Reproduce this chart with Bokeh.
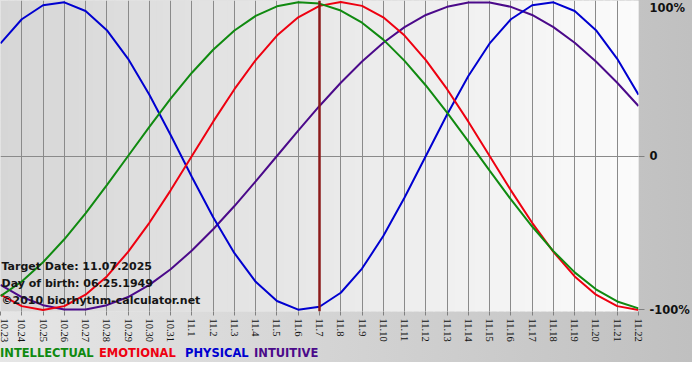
import math
from bokeh.plotting import figure
from bokeh.layouts import column
from bokeh.models import Range1d, FixedTicker, Span, Label, BoxAnnotation, LinearAxis, Div
from bokeh.embed import file_html
from bokeh.resources import INLINE

# ---- data ----
day_labels = ["10.23", "10.24", "10.25", "10.26", "10.27", "10.28", "10.29", "10.30", "10.31",
              "11.1", "11.2", "11.3", "11.4", "11.5", "11.6", "11.7", "11.8", "11.9", "11.10",
              "11.11", "11.12", "11.13", "11.14", "11.15", "11.16", "11.17", "11.18", "11.19",
              "11.20", "11.21", "11.22"]
target_label = "11.7"

physical = [73.1, 88.8, 97.9, 99.8, 94.2, 81.7, 63.1, 39.8, 13.6, -13.6, -39.8, -63.1, -81.7,
            -94.2, -99.8, -97.9, -88.8, -73.1, -52.0, -27.0, 0.0, 27.0, 52.0, 73.1, 88.8, 97.9,
            99.8, 94.2, 81.7, 63.1, 39.8]
emotional = [-90.1, -97.5, -100.0, -97.5, -90.1, -78.2, -62.3, -43.4, -22.3, 0.0, 22.3, 43.4,
             62.3, 78.2, 90.1, 97.5, 100.0, 97.5, 90.1, 78.2, 62.3, 43.4, 22.3, 0.0, -22.3,
             -43.4, -62.3, -78.2, -90.1, -97.5, -100.0]
intellectual = [-91.0, -81.5, -69.0, -54.1, -37.2, -18.9, 0.0, 18.9, 37.2, 54.1, 69.0, 81.5,
                91.0, 97.2, 99.9, 99.0, 94.5, 86.6, 75.6, 61.8, 45.8, 28.2, 9.5, -9.5, -28.2,
                -45.8, -61.8, -75.6, -86.6, -94.5, -99.0]
intuitive = [-83.7, -91.6, -96.9, -99.7, -99.7, -96.9, -91.6, -83.7, -73.6, -61.4, -47.6, -32.5,
             -16.5, 0.0, 16.5, 32.5, 47.6, 61.4, 73.6, 83.7, 91.6, 96.9, 99.7, 99.7, 96.9, 91.6,
             83.7, 73.6, 61.4, 47.6, 32.5]

y_ticks = [-100, 0, 100]
y_tick_labels = ["-100%", "0", "100%"]
series_names = ["INTELLECTUAL", "EMOTIONAL", "PHYSICAL", "INTUITIVE"]
info_lines = ["Target Date: 11.07.2025", "Day of birth: 06.25.1949", "\u00a92010 biorhythm-calculator.net"]

# ---- style ----
colors = {"INTELLECTUAL": "#108a10", "EMOTIONAL": "#ee0010", "PHYSICAL": "#0000d0", "INTUITIVE": "#4b0a8a"}
GRAD = "linear-gradient(to right, #e6e6e6, #c0c0c0)"
W, H = 692, 345
BR, BB = 49, 32
FW, FH = W - BR, H - BB
Y0, Y1 = -101, 101

days = list(range(len(day_labels)))

p = figure(width=W, height=H, output_backend="svg", toolbar_location=None,
           x_range=Range1d(days[0], days[-1]), y_range=Range1d(Y0, Y1),
           y_axis_location=None,
           min_border_left=0, min_border_top=0, min_border_right=BR, min_border_bottom=BB)
p.outline_line_color = None
p.background_fill_color = "#e8e8e8"
p.border_fill_color = None
p.styles = {"background": GRAD}


def lerp_gray(a, b, t):
    v = int(round(a + (b - a) * t))
    return "#%02x%02x%02x" % (v, v, v)


boxes = []
NF = 90
span = days[-1] - days[0]
for i in range(NF):
    x0 = days[0] + span * i / NF
    x1 = days[0] + span * (i + 1) / NF
    boxes.append(BoxAnnotation(left=x0, right=x1 + span / NF * 0.3,
                               fill_color=lerp_gray(0xd6, 0xfb, (i + 0.5) / NF), fill_alpha=1,
                               line_alpha=0, level="underlay"))
for b in boxes:
    p.add_layout(b)
others = [r for r in p.center if r not in boxes]
p.center = boxes + others

# grids
p.xgrid.ticker = FixedTicker(ticks=days)
p.xgrid.grid_line_color = "#8a8a8a"
p.xgrid.grid_line_width = 1
p.ygrid.ticker = FixedTicker(ticks=[0])
p.ygrid.grid_line_color = "#8a8a8a"

# curves
for name, vals in [("INTUITIVE", intuitive), ("PHYSICAL", physical),
                   ("EMOTIONAL", emotional), ("INTELLECTUAL", intellectual)]:
    p.line(days, vals, line_color=colors[name], line_width=2)

p.add_layout(Span(location=day_labels.index(target_label), dimension="height",
                  line_color="#8b1a1a", line_width=2.5))

# bottom axis
xa = p.xaxis[0]
xa.ticker = FixedTicker(ticks=days)
xa.major_label_overrides = {d: lab for d, lab in zip(days, day_labels)}
xa.major_label_orientation = -math.pi / 2
xa.major_label_text_font = "Liberation Sans Narrow"
xa.major_label_text_font_size = "10.5px"
xa.major_label_text_color = "#111111"
xa.major_tick_out = 4
xa.major_tick_in = 0
xa.major_tick_line_color = "#808080"
xa.minor_tick_line_color = None
xa.axis_line_color = None
xa.major_label_standoff = 3

# right side: tick marks only (inner axis) ...
tick_axis = LinearAxis(ticker=FixedTicker(ticks=y_ticks[:2]),
                       major_label_overrides={t: "" for t in y_ticks[:2]},
                       major_label_text_font_size="1px", major_label_standoff=0,
                       major_tick_out=6, major_tick_in=0, major_tick_line_color="#808080",
                       minor_tick_line_color=None, axis_line_color=None)
p.add_layout(tick_axis, "right")
# ... and percent labels (outer axis); the top label is kept inside the canvas
top_pos = Y1 - 8 * (Y1 - Y0) / FH
label_pos = [y_ticks[0], y_ticks[1], top_pos]
label_axis = LinearAxis(ticker=FixedTicker(ticks=label_pos),
                        major_label_overrides={t: lab for t, lab in zip(label_pos, y_tick_labels)},
                        major_label_text_font="DejaVu Sans", major_label_text_font_style="bold",
                        major_label_text_font_size="11.5px", major_label_text_color="#111111",
                        major_label_standoff=5, major_tick_out=0, major_tick_in=0,
                        major_tick_line_color=None, minor_tick_line_color=None,
                        axis_line_color=None)
p.add_layout(label_axis, "right")

# info text (screen units are relative to the frame: x from left, y from bottom)
for line, yb in zip(info_lines, [45, 28, 11]):
    p.add_layout(Label(x=1, y=yb, x_units="screen", y_units="screen", text=line,
                       text_font="DejaVu Sans", text_font_style="bold", text_font_size="11px",
                       text_color="#151515", text_baseline="alphabetic"))

# colored legend words in a strip below the chart
spans_html = "".join(
    '<span style="position:absolute;left:%dpx;top:0;color:%s">%s</span>' % (xs, colors[n], n)
    for n, xs in zip(series_names, [0, 99, 185, 254]))
legend = Div(text='<div style="position:relative;height:17px;line-height:17px;'
                  'font-family:\'DejaVu Sans\';font-weight:bold;font-size:11.5px;'
                  'white-space:nowrap">' + spans_html + '</div>',
             width=W, height=17, styles={"background": GRAD, "margin": "0", "padding": "0"})

layout = column(p, legend, spacing=0)
open("out.html", "w").write(file_html(layout, INLINE))
